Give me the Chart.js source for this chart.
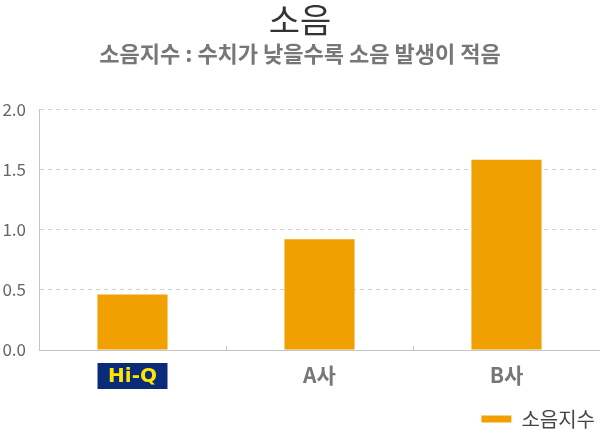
<!DOCTYPE html>
<html>
<head>
<meta charset="utf-8">
<script src="https://cdn.jsdelivr.net/npm/chart.js@4"></script>
<style>
  html, body { margin: 0; padding: 0; background: #fff; }
  #wrap { width: 600px; height: 430px; }
</style>
</head>
<body>
<div id="wrap"><canvas id="noise"></canvas></div>
<script>
const labels = ['Hi-Q', 'A사', 'B사'];
const noiseIndex = [0.46, 0.92, 1.58];
const yTicks = [0, 0.5, 1.0, 1.5, 2.0];

const FONT = '"Noto Sans CJK KR", "Noto Sans", sans-serif';

// Hi-Q is shown as a navy logo badge with yellow letters
const logoBadge = {
  id: 'logoBadge',
  afterDraw(chart) {
    const x = chart.scales.x;
    const cx = x.getPixelForTick(0);
    const cy = x.top + 26;
    const c = chart.ctx;
    c.save();
    c.fillStyle = '#0a2a7a';
    c.fillRect(cx - 35, cy - 13, 70, 26);
    c.fillStyle = '#ffe600';
    c.font = 'bold 20px "DejaVu Sans", sans-serif';
    c.textAlign = 'center';
    c.textBaseline = 'middle';
    c.fillText(labels[0], cx, cy + 1);
    c.restore();
  },
};

new Chart(document.getElementById('noise'), {
  type: 'bar',
  data: {
    labels: labels,
    datasets: [{
      label: '소음지수',
      data: noiseIndex,
      backgroundColor: '#f0a000',
      borderWidth: 0,
      barPercentage: 0.75,
      categoryPercentage: 0.5,
    }],
  },
  options: {
    responsive: true,
    maintainAspectRatio: false,
    animation: false,
    layout: { padding: { top: 0, left: 0, right: 0, bottom: -9 } },
    plugins: {
      title: {
        display: true,
        text: '소음',
        color: '#333',
        font: { family: FONT, size: 34, weight: '400' },
        padding: { top: 0, bottom: 0 },
      },
      subtitle: {
        display: true,
        text: '소음지수 : 수치가 낮을수록 소음 발생이 적음',
        color: '#777',
        font: { family: FONT, size: 22, weight: 'bold' },
        padding: { top: 0, bottom: 42 },
      },
      legend: {
        position: 'bottom',
        align: 'end',
        labels: {
          boxWidth: 30,
          boxHeight: 7,
          color: '#444',
          padding: 5,
          font: { family: FONT, size: 20 },
        },
      },
      tooltip: { enabled: false },
    },
    scales: {
      x: {
        // short upward ticks between the categories, nothing inside the plot
        grid: {
          display: true,
          drawOnChartArea: false,
          drawTicks: true,
          tickLength: -4,
          color: '#c4c4c4',
        },
        border: { display: true, color: '#c4c4c4' },
        afterFit: (axis) => {
          axis.height = 54;
        },
        ticks: {
          padding: 16,
          color: (c) => (c.index === 0 ? 'rgba(0,0,0,0)' : '#777'),
          font: { family: FONT, size: 21, weight: 'bold' },
        },
      },
      y: {
        min: 0,
        max: 2,
        afterBuildTicks: (axis) => {
          axis.ticks = yTicks.map((v) => ({ value: v }));
        },
        afterFit: (axis) => {
          axis.width = 39;
        },
        grid: {
          color: '#d0d0d0',
          drawTicks: false,
        },
        border: { display: true, color: '#c4c4c4', dash: [4, 4] },
        ticks: {
          padding: 13,
          color: '#666',
          font: { family: FONT, size: 17 },
          callback: (v) => Number(v).toFixed(1),
        },
      },
    },
  },
  plugins: [logoBadge],
});
</script>
</body>
</html>
